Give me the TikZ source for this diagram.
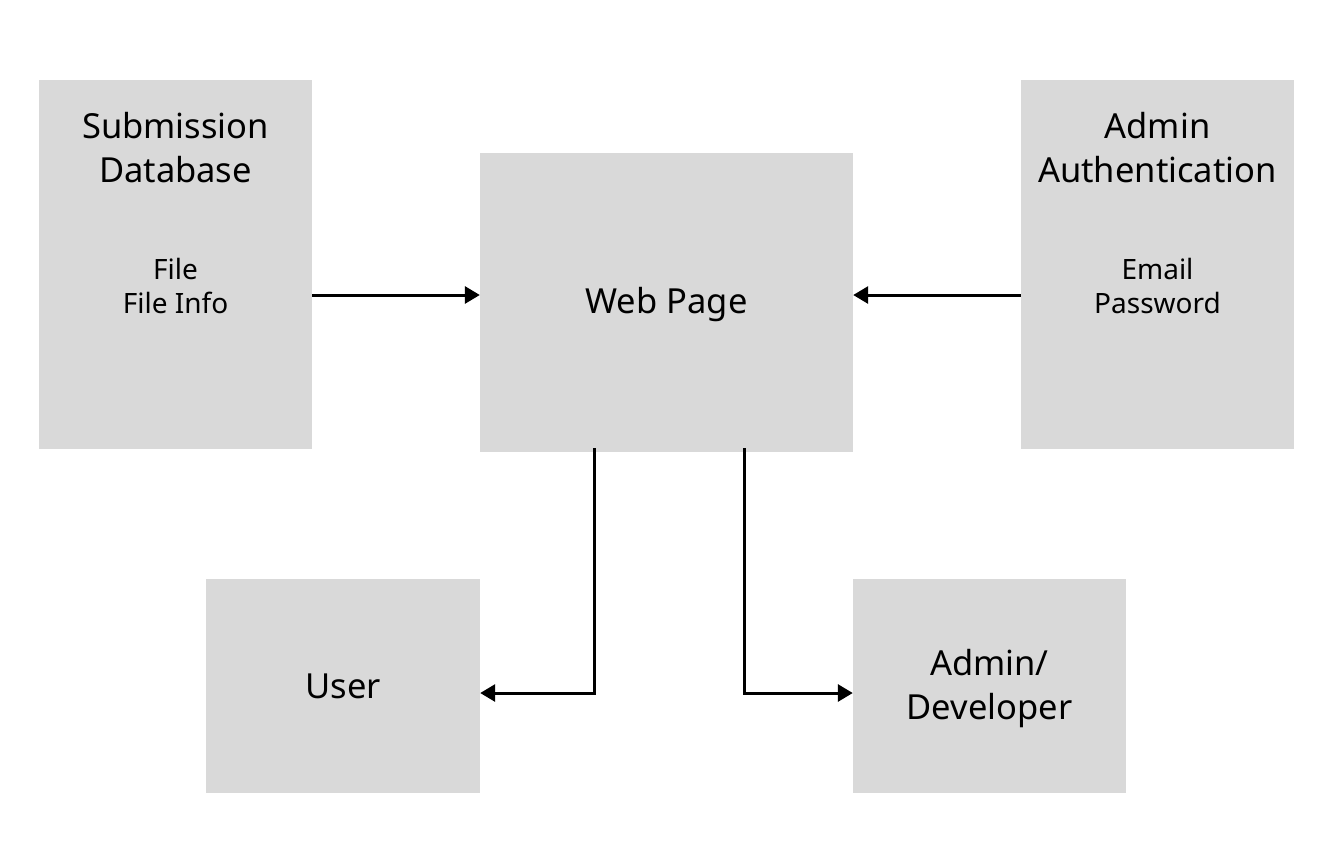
\documentclass[tikz,border=0pt]{standalone}
\usepackage{fontspec}
\setmainfont{Noto Sans}
\usetikzlibrary{arrows.meta}
\begin{document}
\begin{tikzpicture}[x=1pt,y=-1pt,
  box/.style={fill=boxgray, draw=none, inner sep=0pt},
  big/.style={font=\fontsize{34.5}{44}\selectfont, align=center, inner sep=0pt},
  small/.style={font=\fontsize{28}{34}\selectfont, align=center, inner sep=0pt},
  conn/.style={line width=3pt, -{Triangle[length=15pt,width=17pt]}}
]
\definecolor{boxgray}{HTML}{D9D9D9}
\useasboundingbox[fill=white] (0,0) rectangle (1344,860);
% boxes
\node[box, minimum width=273, minimum height=369] (sub) at (175.5,264.5) {};
\node[box, minimum width=373, minimum height=299] (web) at (666.5,302.5) {};
\node[box, minimum width=273, minimum height=369] (auth) at (1157.5,264.5) {};
\node[box, minimum width=274, minimum height=214] (user) at (343,686) {};
\node[box, minimum width=273, minimum height=214] (dev) at (989.5,686) {};
% texts
\node[big] (subt) at (175.5,148) {Submission\\Database};
\node[small] (subs) at (175.5,286) {File\\File Info};
\node[big] (autht) at (1157.5,148) {Admin\\Authentication};
\node[small] (auths) at (1157.5,286) {Email\\Password};
\node[big] (webt) at (666.5,305) {Web Page};
\node[big] (usert) at (343,686) {User};
\node[big] (devt) at (989.5,689) {Admin/\\Developer};
% connectors
\coordinate (d1) at (594,693);
\coordinate (d2) at (744,693);
\draw[conn] (sub.east |- 0,295) -- (web.west |- 0,295);
\draw[conn] (auth.west |- 0,295) -- (web.east |- 0,295);
\draw[conn] (web.south -| d1) ++(0,-4) -- (d1) -- (user.east |- d1);
\draw[conn] (web.south -| d2) ++(0,-4) -- (d2) -- (dev.west |- d2);
\end{tikzpicture}
\end{document}
